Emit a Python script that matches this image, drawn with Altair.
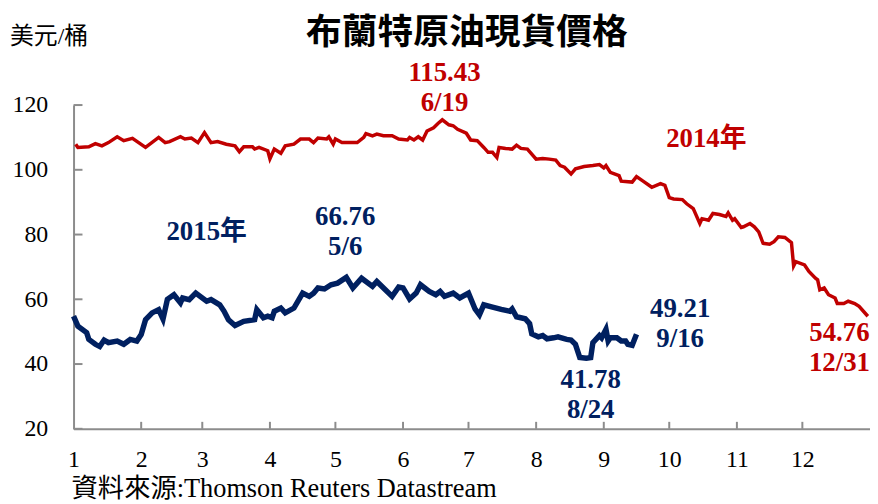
import altair as alt
import pandas as pd

# ---- data ----
dates_2014 = ["01-02","01-03","01-08","01-11","01-14","01-17","01-21","01-24","01-28",
    "02-03","02-09","02-12","02-14","02-19","02-21","02-24","02-27",
    "03-02","03-05","03-08","03-12","03-16","03-18","03-20","03-24","03-25","03-27","03-31",
    "04-01","04-03","04-06","04-08","04-12","04-15","04-19","04-21","04-23","04-27","04-28","04-30",
    "05-01","05-04","05-11","05-14","05-15","05-18","05-20","05-23","05-27","05-30",
    "06-03","06-04","06-06","06-08","06-10","06-12","06-15","06-17","06-19","06-22","06-24","06-26","06-30",
    "07-02","07-05","07-08","07-10","07-12","07-14","07-15","07-18","07-21","07-23","07-25","07-28",
    "08-01","08-04","08-07","08-10","08-12","08-14","08-17","08-19","08-23","08-27","08-30",
    "09-01","09-02","09-04","09-08","09-09","09-14","09-16","09-19","09-23","09-27","09-29",
    "10-01","10-03","10-07","10-09","10-12","10-15","10-16","10-19","10-21","10-24","10-27","10-28","10-30","10-31",
    "11-03","11-04","11-07","11-09","11-11","11-13","11-16","11-18","11-20","11-23","11-26","11-27","11-28",
    "12-02","12-04","12-07","12-08","12-09","12-11","12-13","12-16","12-17","12-20","12-22","12-25","12-27","12-31"]
price_2014 = [107.9,106.9,107.1,108.1,107.4,108.4,110.2,109.0,109.7,
    106.9,110.0,108.4,108.7,110.2,109.5,109.8,108.4,
    111.5,108.4,108.7,107.9,107.4,105.6,107.1,107.1,106.4,106.9,105.9,
    103.4,106.4,105.1,107.4,107.9,109.5,109.5,108.4,109.8,109.5,110.2,107.9,
    109.5,108.4,108.4,110.0,111.2,110.5,111.0,110.5,110.5,109.5,
    109.2,110.0,109.2,110.2,109.2,112.0,113.0,114.3,115.43,113.9,113.6,112.5,111.3,
    109.2,109.0,106.9,105.4,105.4,103.8,106.9,106.6,106.4,107.6,106.6,106.4,
    103.3,103.5,103.3,103.0,101.3,100.8,98.7,100.3,101.0,101.3,101.6,
    100.6,101.3,99.2,98.2,96.5,96.2,97.9,96.5,94.6,95.7,95.2,
    91.4,91.0,90.8,89.5,88.0,83.4,84.9,84.4,86.5,86.2,85.6,86.7,84.4,84.9,
    82.2,82.4,83.4,82.4,80.8,77.3,77.0,77.8,79.3,79.1,77.5,70.3,71.6,
    70.6,68.6,66.5,66.0,62.9,63.5,61.4,60.4,58.7,58.7,59.4,58.7,57.8,54.76]

dates_2015 = ["01-01","01-03","01-07","01-08","01-11","01-13","01-15","01-17","01-21","01-24","01-27","01-30",
    "02-01","02-03","02-06","02-09","02-11","02-13","02-16","02-19","02-20","02-23","02-26",
    "03-03","03-05","03-09","03-11","03-13","03-16","03-20","03-25","03-26","03-29","03-31",
    "04-02","04-03","04-06","04-08","04-12","04-16","04-19","04-21","04-23","04-26","04-29",
    "05-02","05-06","05-09","05-13","05-18","05-20","05-24","05-27","05-30",
    "06-01","06-04","06-07","06-09","06-13","06-16","06-18","06-20","06-24","06-27",
    "07-01","07-04","07-06","07-08","07-12","07-16","07-20","07-21","07-23","07-27","07-29","07-30",
    "08-02","08-04","08-06","08-09","08-11","08-15","08-17","08-19","08-21","08-24","08-26","08-27","08-30","08-31",
    "09-02","09-03","09-04","09-07","09-09","09-11","09-12","09-14","09-16"]
price_2015 = [54.8,51.7,49.7,47.6,46.1,45.4,47.4,46.6,47.1,46.1,47.6,47.1,
    49.1,53.7,55.8,56.8,53.9,60.0,61.4,58.9,60.4,59.9,61.9,
    59.4,59.9,58.3,56.3,53.7,51.9,53.2,53.7,56.8,54.3,54.8,
    54.3,56.3,57.3,55.8,57.3,61.9,60.9,61.9,63.5,63.2,64.5,
    65.0,66.76,63.5,66.5,64.0,65.5,62.9,60.9,63.8,
    63.5,60.1,61.9,64.5,62.4,61.4,62.4,60.9,61.9,60.4,
    61.9,57.0,55.2,58.3,57.6,56.9,56.3,57.0,54.6,54.0,52.5,49.3,
    48.4,48.8,47.8,48.1,48.4,47.6,47.4,46.1,42.0,41.78,42.0,46.6,48.8,48.1,
    50.7,47.1,48.1,48.1,47.1,47.1,46.1,45.8,49.21]

month_starts = [0, 31, 59, 90, 120, 151, 181, 212, 243, 273, 304, 334]
month_labels = ["1","2","3","4","5","6","7","8","9","10","11","12"]
y_ticks = [20, 40, 60, 80, 100, 120]

ann_2014_text = ["115.43", "6/19", "2014年", "54.76", "12/31"]
ann_2014_day = [170, 170, 290, 351, 351]
ann_2014_val = [129.8, 120.6, 109.6, 49.6, 40.4]
ann_2015_text = ["66.76", "5/6", "2015年", "49.21", "9/16", "41.78", "8/24"]
ann_2015_day = [124.5, 124.5, 61, 278, 278, 237, 237]
ann_2015_val = [85.4, 76.2, 80.7, 57.1, 47.6, 35.0, 25.8]

title_text = "布蘭特原油現貨價格"
unit_text = "美元/桶"
source_text = "資料來源:Thomson Reuters Datastream"

RED = "#C00000"
NAVY = "#002060"
GREY = "#8c8c8c"
SERIF = "Liberation Serif, Noto Sans CJK TC"
W, H = 802, 326


def doy(md):
    return pd.Timestamp("2014-" + md).dayofyear - 1


df14 = pd.DataFrame({"day": [doy(d) for d in dates_2014], "price": price_2014})
df15 = pd.DataFrame({"day": [doy(d) for d in dates_2015], "price": price_2015})

xscale = alt.Scale(domain=[0, 365], nice=False, zero=False)
yscale = alt.Scale(domain=[20, 120], nice=False, zero=False)

label_expr = "[" + ",".join("'%s'" % s for s in month_labels) + "][indexof([" + \
    ",".join(str(v) for v in month_starts) + "], datum.value)]"

x_enc = alt.X("day:Q", scale=xscale, axis=alt.Axis(
    values=month_starts, labelExpr=label_expr, ticks=False, grid=False, title=None,
    domainColor=GREY, domainWidth=2, labelFont=SERIF, labelFontSize=24,
    labelColor="#000000", labelPadding=19, labelFlush=False))
y_enc = alt.Y("price:Q", scale=yscale, axis=alt.Axis(
    values=y_ticks, ticks=False, grid=False, title=None,
    domainColor=GREY, domainWidth=2, labelFont=SERIF, labelFontSize=24,
    labelColor="#000000", labelPadding=26))

line14 = alt.Chart(df14).mark_line(color=RED, strokeWidth=3.5).encode(x=x_enc, y=y_enc)
line15 = alt.Chart(df15).mark_line(color=NAVY, strokeWidth=5.5).encode(x="day:Q", y="price:Q")

ytick_df = pd.DataFrame({"price": y_ticks})
yticks = alt.Chart(ytick_df).mark_rule(color=GREY, strokeWidth=2).encode(
    y="price:Q", x=alt.value(0), x2=alt.value(9))
xtick_df = pd.DataFrame({"day": month_starts[1:]})
xticks = alt.Chart(xtick_df).mark_rule(color=GREY, strokeWidth=2).encode(
    x="day:Q", y=alt.value(H), y2=alt.value(H - 7))

a14 = alt.Chart(pd.DataFrame({"day": ann_2014_day, "price": ann_2014_val, "t": ann_2014_text})).mark_text(
    color=RED, font=SERIF, fontSize=27, fontWeight="bold", baseline="middle", align="center"
).encode(x="day:Q", y="price:Q", text="t:N")
a15 = alt.Chart(pd.DataFrame({"day": ann_2015_day, "price": ann_2015_val, "t": ann_2015_text})).mark_text(
    color=NAVY, font=SERIF, fontSize=27, fontWeight="bold", baseline="middle", align="center"
).encode(x="day:Q", y="price:Q", text="t:N")

title = alt.Chart(pd.DataFrame({"t": [title_text]})).mark_text(
    font=SERIF, fontSize=36, fontWeight="bold", color="#000000",
    baseline="middle", align="center"
).encode(x=alt.value(396), y=alt.value(-72), text="t:N")
unit = alt.Chart(pd.DataFrame({"t": [unit_text]})).mark_text(
    font=SERIF, fontSize=24, color="#000000", baseline="middle", align="left"
).encode(x=alt.value(-64), y=alt.value(-68), text="t:N")
source = alt.Chart(pd.DataFrame({"t": [source_text]})).mark_text(
    font=SERIF, fontSize=26.5, color="#000000", baseline="middle", align="left"
).encode(x=alt.value(-2), y=alt.value(387), text="t:N")

chart = alt.layer(line14, line15, yticks, xticks, a14, a15, title, unit, source).properties(
    width=W, height=H,
    autosize=alt.AutoSizeParams(type="none"),
    padding={"left": 66, "top": 96, "right": 0, "bottom": 74},
    background="#ffffff",
).configure_view(stroke=None)

chart.save("out.html", embed_options={"renderer": "svg", "actions": False})
